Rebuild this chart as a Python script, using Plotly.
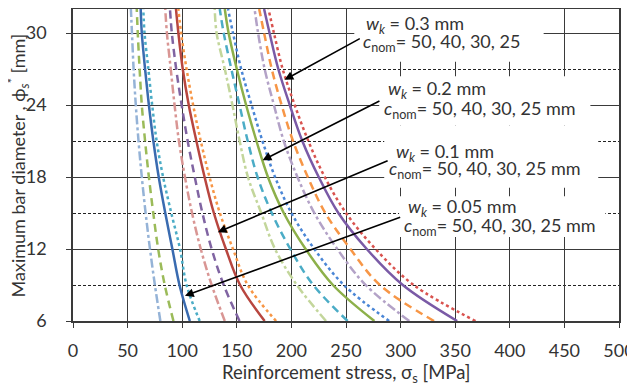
import plotly.graph_objects as go

# Maximum bar diameter values (y) at which stresses are read
phi = [6, 9, 12, 15, 18, 21, 24, 27, 30, 32]

# w_k = 0.05 mm, c_nom = 50, 40, 30, 25
w005_c50 = [80, 75, 70.5, 66.5, 63, 60, 57.5, 55.5, 54, 53]
w005_c40 = [92, 84, 78, 73.5, 69.5, 66, 63, 61, 59.3, 58.4]
w005_c30 = [107, 97.5, 91, 84.5, 78.5, 73.6, 69.5, 66, 63, 62]
w005_c25 = [116, 104, 98, 90, 82.5, 76.6, 72.5, 69, 65.5, 64.4]
# w_k = 0.1 mm
w01_c50 = [139, 127, 117, 109, 102.5, 97, 93, 89.5, 86, 84.5]
w01_c40 = [152.5, 138, 127, 118.5, 111.5, 105, 99.5, 94.5, 90.5, 88.8]
w01_c30 = [175.5, 153, 140, 129, 120.5, 113, 106, 100.5, 96.5, 94.3]
w01_c25 = [186, 160, 146.5, 134.5, 125, 117, 110, 104, 99, 96.5]
# w_k = 0.2 mm
w02_c50 = [231.7, 205, 185, 172.4, 160.2, 152.6, 146, 139, 131.5, 129.8]
w02_c40 = [251.5, 220, 199, 182, 169, 160, 152.5, 145, 138, 134.4]
w02_c30 = [276, 238, 213, 193, 178.5, 168, 158.5, 150, 142.5, 139]
w02_c25 = [289.5, 248, 221, 200, 185, 173.5, 163.5, 154, 146.5, 142]
# w_k = 0.3 mm
w03_c50 = [308, 268, 242, 221, 205.5, 193, 184, 175.5, 169.5, 166.3]
w03_c40 = [330.6, 281, 254, 231, 215, 201.5, 191, 182, 175, 170.5]
w03_c30 = [351.8, 302, 269, 243, 225, 210, 198.5, 188, 180, 175]
w03_c25 = [368.6, 312, 277, 250, 230.5, 215.5, 203, 192, 184, 179]

x_ticks = [0, 50, 100, 150, 200, 250, 300, 350, 400, 450, 500]
y_ticks = [6, 12, 18, 24, 30]
y_minor = [9, 15, 21, 27]

series = [
    (w005_c50, "#95B3D7", "dashdot"),
    (w005_c40, "#9BBB59", "8px,5px"),
    (w005_c30, "#3A6BB0", "solid"),
    (w005_c25, "#4BACC6", "dot"),
    (w01_c50, "#D99694", "dashdot"),
    (w01_c40, "#8064A2", "8px,5px"),
    (w01_c30, "#B8463F", "solid"),
    (w01_c25, "#F79646", "dot"),
    (w02_c50, "#C3D69B", "dashdot"),
    (w02_c40, "#4BACC6", "8px,5px"),
    (w02_c30, "#8DB04A", "solid"),
    (w02_c25, "#4A86D6", "dot"),
    (w03_c50, "#B3A2C7", "dashdot"),
    (w03_c40, "#F79646", "8px,5px"),
    (w03_c30, "#7A5AA6", "solid"),
    (w03_c25, "#D9534F", "dot"),
]

fig = go.Figure()
for vals, col, dash in series:
    fig.add_trace(go.Scatter(
        x=vals, y=phi, mode="lines",
        line=dict(color=col, width=2.5, dash=dash, shape="spline", smoothing=1.0),
        showlegend=False, hoverinfo="skip"))

font_family = "Lato, 'Open Sans', sans-serif"
txt_col = "#333333"

# white label backgrounds (hide the grid behind the labels)
label_boxes = [
    (257.6, 431.0, 27.6, 32.0),
    (280.4, 473.8, 22.3, 26.4),
    (285.0, 481.0, 17.1, 22.3),
    (298.6, 487.5, 13.0, 16.4),
]
for (x0, x1, y0, y1) in label_boxes:
    fig.add_shape(type="rect", xref="x", yref="y", x0=x0, x1=x1, y0=y0, y1=y1,
                  fillcolor="white", line=dict(width=0), layer="above")

wk = "<i>w</i><sub><i>k</i></sub> = "
cn = "<i>c</i><sub>nom</sub>= "
label_lines = [
    (266.7, 30.69, wk + "0.3 mm"),
    (264.0, 29.19, cn + "50, 40, 30, 25"),
    (286.8, 25.27, wk + "0.2 mm"),
    (283.0, 23.60, cn + "50, 40, 30, 25 mm"),
    (294.0, 20.02, wk + "0.1 mm"),
    (287.7, 18.60, cn + "50, 40, 30, 25 mm"),
    (305.0, 15.44, wk + "0.05 mm"),
    (301.4, 13.86, cn + "50, 40, 30, 25 mm"),
]
arrows = [
    ((264, 29.6), (193.7, 26.1)),
    ((282, 24.4), (173.6, 19.4)),
    ((289.5, 19.4), (132.6, 13.4)),
    ((301, 14.7), (102.5, 8.1)),
]

for (tx, ty, t) in label_lines:
    fig.add_annotation(x=tx, y=ty, xref="x", yref="y", text=t, showarrow=False,
                       xanchor="left", yanchor="middle", align="left",
                       font=dict(family=font_family, size=18, color=txt_col))
for (tail, head) in arrows:
    fig.add_annotation(x=head[0], y=head[1], ax=tail[0], ay=tail[1],
                       xref="x", yref="y", axref="x", ayref="y", text="",
                       showarrow=True, arrowhead=2, arrowsize=1.1, arrowwidth=1.6,
                       arrowcolor="black")

# axis titles
fig.add_annotation(x=0.5, y=-0.168, xref="paper", yref="paper",
                   text="Reinforcement stress, σ<sub>s</sub> [MPa]", showarrow=False,
                   xanchor="center", yanchor="middle",
                   font=dict(family=font_family, size=18.5, color=txt_col))
fig.add_annotation(x=-0.1, y=0.5, xref="paper", yref="paper", textangle=-90,
                   text="Maximum bar diameter , ϕ<sub><i>s</i></sub><sup>*</sup> [mm]",
                   showarrow=False, xanchor="center", yanchor="middle",
                   font=dict(family=font_family, size=18, color=txt_col))

grid_col = "#3a3a3a"
fig.update_layout(
    width=627, height=377,
    margin=dict(l=65, r=16, t=1, b=64),
    paper_bgcolor="white", plot_bgcolor="white",
    font=dict(family=font_family, size=18, color=txt_col),
    xaxis=dict(range=[0, 500], tickvals=x_ticks, ticktext=[str(v) for v in x_ticks],
               automargin=False,
               showgrid=True, gridcolor=grid_col, gridwidth=1.3,
               showline=True, linecolor=grid_col, linewidth=1.5, mirror=True,
               ticks="outside", ticklen=5, tickcolor=grid_col, ticklabelstandoff=8,
               tickfont=dict(size=18),
               zeroline=False),
    yaxis=dict(range=[6, 32], tickvals=y_ticks, ticktext=[str(v) for v in y_ticks],
               automargin=False,
               showgrid=True, gridcolor=grid_col, gridwidth=1.3,
               showline=True, linecolor=grid_col, linewidth=1.5, mirror=True,
               ticks="outside", ticklen=5, tickcolor=grid_col, ticklabelstandoff=16,
               tickfont=dict(size=18),
               zeroline=False,
               minor=dict(tickvals=y_minor, showgrid=True, gridcolor="#222222",
                          gridwidth=1, griddash="3px,2px", ticks="")),
)

fig.write_html("out.html")
